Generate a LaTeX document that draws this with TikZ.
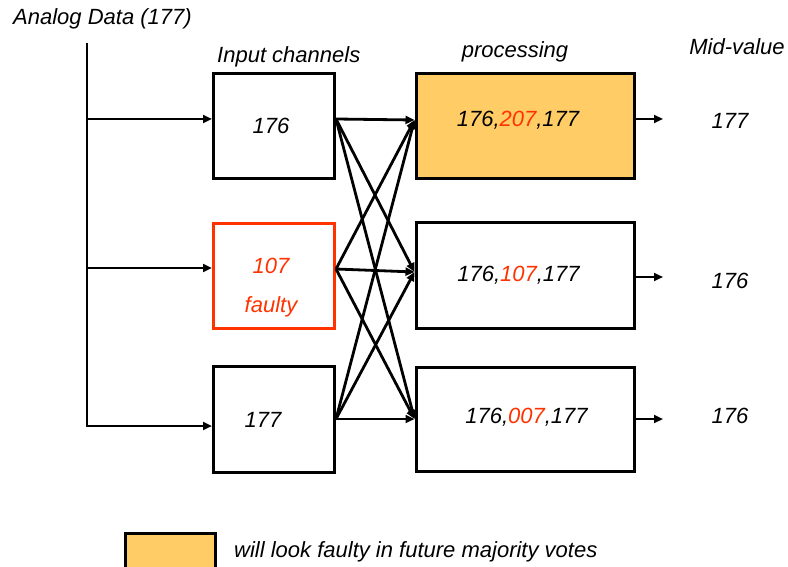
\documentclass[tikz,border=0pt]{standalone}
\usepackage{fontspec}
\setmainfont{Liberation Sans}
\usetikzlibrary{arrows.meta,calc}
\definecolor{vote}{RGB}{255,204,102}
\definecolor{fault}{RGB}{255,51,0}
\tikzset{
  wire/.style={line width=2.8pt},
  arr/.style={wire,-{Triangle[length=9pt,width=8pt]}},
  chan/.style={draw,line width=3pt,minimum width=121pt,minimum height=105pt,inner sep=0pt},
  proc/.style={draw,line width=3pt,minimum width=218pt,minimum height=105pt,inner sep=0pt},
  lbl/.style={font=\fontsize{22}{26}\selectfont\itshape,inner sep=0pt,anchor=base},
}
\begin{document}
\begin{tikzpicture}[x=1pt,y=-1pt]
\useasboundingbox (0,0) rectangle (788,567);
\clip (0,0) rectangle (788,567);

% headings
\node[lbl,anchor=base west] (src) at (13,25) {Analog Data (177)};
\node[lbl,anchor=base west] (hin) at (217,63) {Input channels};
\node[lbl] (hproc) at (515,58) {processing};
\node[lbl] (hmid) at (737,55) {Mid-value};

% input channels
\node[chan] (in1) at (274,126) {};
\node[chan,draw=fault] (in2) at (274,276) {};
\node[chan,minimum height=106pt] (in3) at (274,419) {};
\node[lbl] (v1) at (271,134) {176};
\node[lbl,text=fault] (v2) at (271,273) {107};
\node[lbl,text=fault] (v2f) at (271,312) {faulty};
\node[lbl] (v3) at (263,427) {177};

% voters
\node[proc,fill=vote] (pr1) at (525,126) {};
\node[proc] (pr2) at (525,275.5) {};
\node[proc,minimum height=104pt] (pr3) at (525,419) {};
\node[lbl] (p1) at (518,127) {176,\textcolor{fault}{207},177};
\node[lbl] (p2) at (518.5,281) {176,\textcolor{fault}{107},177};
\node[lbl] (p3) at (526.5,423) {176,\textcolor{fault}{007},177};

% mid values
\node[lbl] (m1) at (730,129) {177};
\node[lbl] (m2) at (730,288) {176};
\node[lbl] (m3) at (730,423) {176};

% distribution trunk
\coordinate (top) at (87,43);
\coordinate (i1) at (in1.west |- 0,119);
\coordinate (i2) at (in2.west |- 0,268);
\coordinate (i3) at (in3.west |- 0,426);
\draw[arr] (top) |- (i3);
\draw[arr] (top |- i1) -- (i1);
\draw[arr] (top |- i2) -- (i2);

% cross connections
\coordinate (s1) at (in1.east |- 0,119);
\coordinate (s2) at (in2.east |- 0,269);
\coordinate (s3) at (in3.east |- 0,419);
\coordinate (t1) at (pr1.west |- 0,120);
\coordinate (t2) at (pr2.west |- 0,272);
\coordinate (t3) at (pr3.west |- 0,419);
\foreach \i in {1,2,3}
  \foreach \j in {1,2,3}
    \draw[arr] (s\i) -- (t\j);

% outputs
\coordinate (o1) at (663,119);
\coordinate (o2) at (663,277);
\coordinate (o3) at (663,419);
\draw[arr] (pr1.east |- o1) -- (o1);
\draw[arr] (pr2.east |- o2) -- (o2);
\draw[arr] (pr3.east |- o3) -- (o3);

% key
\node[draw,line width=3pt,fill=vote,minimum width=90pt,minimum height=60pt,inner sep=0pt,anchor=north west] (key) at (123.5,531.5) {};
\node[lbl,anchor=base west] (keytxt) at (234,557) {will look faulty in future majority votes};
\end{tikzpicture}
\end{document}
